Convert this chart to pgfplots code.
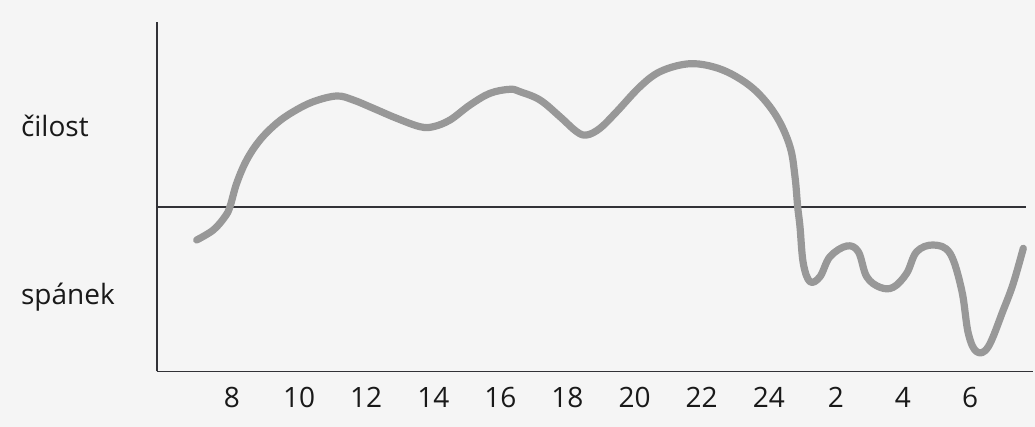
\documentclass[border=0pt]{standalone}
\usepackage{fontspec}
\setmainfont{Open Sans}
\usepackage{pgfplots}
\pgfplotsset{compat=1.18}
\definecolor{bg}{RGB}{245,245,245}
\definecolor{curve}{RGB}{152,152,152}
\definecolor{axl}{RGB}{50,50,55}
\begin{document}
\begin{tikzpicture}
\fill[bg,use as bounding box] (-78.5pt,-27.75pt) rectangle (439pt,185.75pt);
\begin{axis}[
  scale only axis,
  width=438pt, height=174.75pt,
  xmin=5.765, xmax=31.875,
  ymin=-164.5, ymax=185,
  axis x line=bottom, axis y line=left,
  axis line style={-, draw=axl, line width=0.9pt},
  xtick={8,10,12,14,16,18,20,22,24,26,28,30},
  xticklabels={8,10,12,14,16,18,20,22,24,2,4,6},
  ytick=\empty,
  major tick length=0pt,
  /pgf/number format/assume math mode=true,
  xticklabel style={font=\fontsize{14}{16}\selectfont, text=black!90, yshift=-4.5pt},
  clip=false,
]
\addplot[axl, line width=1.2pt] coordinates {(5.765,0) (31.67,0)};
\addplot[curve, line width=3.6pt, smooth, tension=0.6, line cap=round, line join=round] coordinates {
(6.948,-33) (7.443,-23) (7.791,-9.7) (7.940,0.3) (8.140,23.7) (8.438,47)
(8.835,67) (9.332,83.7) (9.827,95.3) (10.423,105.3) (11.121,111) (11.615,107)
(12.212,98.7) (12.909,88.7) (13.604,80.3) (14.000,80.3) (14.498,87) (15.094,102)
(15.690,113.7) (16.286,117.7) (16.584,115.3) (17.180,107) (17.776,90.3)
(18.274,75.3) (18.572,72) (18.969,78.7) (19.467,95.3) (20.161,120.3)
(20.757,135.3) (21.553,143) (22.247,141) (22.942,132) (23.639,115.3)
(24.235,90.3) (24.632,60.3) (24.781,30.3) (24.861,0.3) (24.930,-19.7)
(25.028,-56.3) (25.228,-74.7) (25.526,-69.7) (25.824,-49.7) (26.322,-39)
(26.668,-44.7) (26.918,-69.7) (27.314,-80.3) (27.711,-80.3) (28.110,-66.3)
(28.408,-44.7) (28.903,-38) (29.401,-46.3) (29.749,-83) (29.946,-126.3)
(30.197,-144.7) (30.543,-139.7) (30.990,-103) (31.288,-76.3) (31.586,-41.3)
};
\node[anchor=base west, inner sep=0pt, font=\fontsize{14}{16}\selectfont, text=black!90] at (axis cs:1.70,70) {čilost};
\node[anchor=base west, inner sep=0pt, font=\fontsize{14}{16}\selectfont, text=black!90] at (axis cs:1.70,-98) {spánek};
\end{axis}
\end{tikzpicture}
\end{document}
